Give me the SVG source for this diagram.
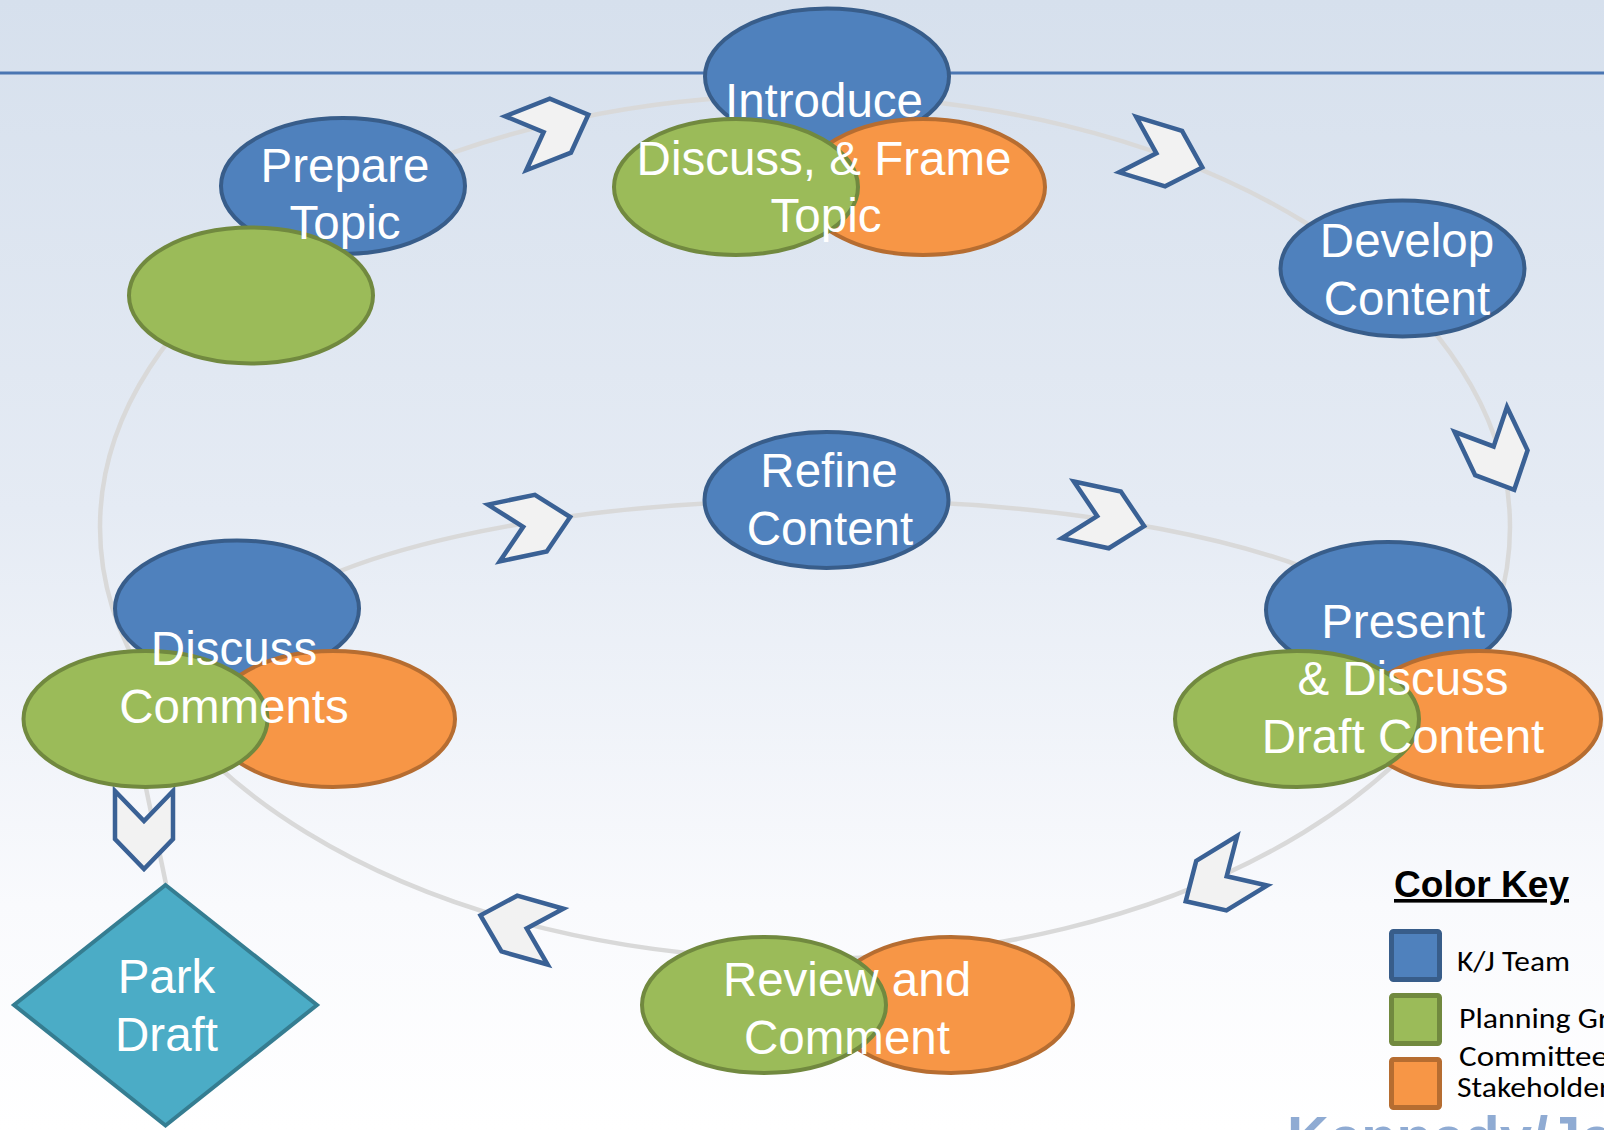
<svg xmlns="http://www.w3.org/2000/svg" width="1604" height="1130" viewBox="0 0 1604 1130">
  <defs>
    <linearGradient id="bg" x1="0" y1="0" x2="0" y2="1">
      <stop offset="0" stop-color="#d6e0ed"/>
      <stop offset="0.45" stop-color="#e5ebf4"/>
      <stop offset="0.8" stop-color="#f9fafd"/>
      <stop offset="1" stop-color="#ffffff"/>
    </linearGradient>
    <!-- chevron pointing +x, centred on its own origin -->
    <polygon id="chev" points="-39,-29 9,-29 39,0 9,29 -39,29 -9,0"/>
  </defs>
  <style>
    .kj { fill: #4f81bd; stroke: #385d8a; stroke-width: 4; }
    .pg { fill: #9bbb59; stroke: #71893f; stroke-width: 4; }
    .cs { fill: #f79646; stroke: #b66d31; stroke-width: 4; }
    .park { fill: #4bacc6; stroke: #357d91; stroke-width: 4; stroke-linejoin: miter; }
    .lbl { font-family: "Liberation Sans", Arial, sans-serif; font-size: 47.5px; fill: #ffffff; text-anchor: middle; }
    .ring { fill: none; stroke: #d9d9d9; stroke-width: 4.5; }
    .chev { fill: #f2f2f2; stroke: #3a6195; stroke-width: 4.5; stroke-linejoin: miter; }
    .key { stroke-width: 5; }
    .keytxt { font-family: Carlito, Lato, "Liberation Sans", sans-serif; font-size: 28px; fill: #000000; }
  </style>

  <!-- backdrop and header rule -->
  <rect x="0" y="0" width="1604" height="1130" fill="url(#bg)"/>
  <line x1="0" y1="73" x2="1604" y2="73" stroke="#4a76b2" stroke-width="3"/>

  <!-- connectors -->
  <g id="connectors">
    <ellipse class="ring" cx="805" cy="527" rx="705" ry="432"/>
    <path class="ring" d="M 250 624 A 600 171 0 0 1 1390 612"/>
    <line class="ring" x1="137" y1="745" x2="166" y2="884"/>
    <use href="#chev" class="chev" transform="translate(552 129) rotate(-21.4)"/>
    <use href="#chev" class="chev" transform="translate(1165 156) rotate(17)"/>
    <use href="#chev" class="chev" transform="translate(1497.5 454.6) rotate(64.6)"/>
    <use href="#chev" class="chev" transform="translate(1219 881) rotate(148.6)"/>
    <use href="#chev" class="chev" transform="translate(518 926) rotate(195.8)"/>
    <use href="#chev" class="chev" transform="translate(532 525) rotate(-11.8)"/>
    <use href="#chev" class="chev" transform="translate(1106 518) rotate(12)"/>
    <use href="#chev" class="chev" transform="translate(144 830) rotate(90)"/>
  </g>

  <g id="prepare-topic">
    <ellipse class="kj" cx="343" cy="186" rx="122" ry="68"/>
    <ellipse class="pg" cx="251" cy="295.5" rx="122" ry="68"/>
    <text class="lbl"><tspan x="345" y="182">Prepare</tspan><tspan x="345" y="239">Topic</tspan></text>
  </g>

  <g id="introduce-topic">
    <ellipse class="kj" cx="827" cy="76.5" rx="122" ry="68"/>
    <ellipse class="cs" cx="923" cy="187" rx="122" ry="68"/>
    <ellipse class="pg" cx="736" cy="187" rx="122" ry="68"/>
    <text class="lbl"><tspan x="824" y="117">Introduce</tspan><tspan x="824" y="175">Discuss, &amp; Frame</tspan><tspan x="826" y="232">Topic</tspan></text>
  </g>

  <g id="develop-content">
    <ellipse class="kj" cx="1402.5" cy="268.5" rx="122" ry="68"/>
    <text class="lbl"><tspan x="1407" y="257">Develop</tspan><tspan x="1407" y="315">Content</tspan></text>
  </g>

  <g id="refine-content">
    <ellipse class="kj" cx="826.5" cy="500" rx="122" ry="68"/>
    <text class="lbl"><tspan x="829" y="487">Refine</tspan><tspan x="830" y="545">Content</tspan></text>
  </g>

  <g id="present-draft">
    <ellipse class="kj" cx="1388" cy="610" rx="122" ry="68"/>
    <ellipse class="cs" cx="1479" cy="719" rx="122" ry="68"/>
    <ellipse class="pg" cx="1297" cy="719" rx="122" ry="68"/>
    <text class="lbl"><tspan x="1403" y="638">Present</tspan><tspan x="1403" y="695">&amp; Discuss</tspan><tspan x="1403" y="753">Draft Content</tspan></text>
  </g>

  <g id="discuss-comments">
    <ellipse class="kj" cx="237" cy="608.5" rx="122" ry="68"/>
    <ellipse class="cs" cx="333" cy="719" rx="122" ry="68"/>
    <ellipse class="pg" cx="145.5" cy="719" rx="122" ry="68"/>
    <text class="lbl"><tspan x="234" y="665">Discuss</tspan><tspan x="234" y="723">Comments</tspan></text>
  </g>

  <g id="review-comment">
    <ellipse class="cs" cx="951" cy="1005" rx="122" ry="68"/>
    <ellipse class="pg" cx="764" cy="1005" rx="122" ry="68"/>
    <text class="lbl"><tspan x="847" y="996">Review and</tspan><tspan x="847" y="1054">Comment</tspan></text>
  </g>

  <g id="park-draft">
    <polygon class="park" points="165.5,885 317,1005 165.5,1125.5 14,1005"/>
    <text class="lbl"><tspan x="166.5" y="993">Park</tspan><tspan x="166.5" y="1051">Draft</tspan></text>
  </g>

  <g id="color-key">
    <text x="1394" y="897" font-family="'Liberation Sans', Arial, sans-serif" font-size="36" font-weight="bold" fill="#000000" text-decoration="underline" textLength="175" lengthAdjust="spacingAndGlyphs">Color Key</text>
    <rect class="kj key" x="1391.5" y="931.5" width="48" height="48" rx="2"/>
    <rect class="pg key" x="1391.5" y="995.5" width="48" height="48" rx="2"/>
    <rect class="cs key" x="1391.5" y="1059.5" width="48" height="48" rx="2"/>
    <text class="keytxt" x="1457" y="971" textLength="113" lengthAdjust="spacingAndGlyphs">K/J Team</text>
    <text class="keytxt" x="1459" y="1028" textLength="150" lengthAdjust="spacingAndGlyphs">Planning Gr</text>
    <text class="keytxt" x="1459" y="1066" textLength="149" lengthAdjust="spacingAndGlyphs">Committee</text>
    <text class="keytxt" x="1457" y="1097" textLength="153" lengthAdjust="spacingAndGlyphs">Stakeholder</text>
  </g>

  <text x="1287" y="1157" font-family="'Liberation Sans', Arial, sans-serif" font-size="58" font-weight="bold" fill="#8fabd3">Kennedy/Je</text>
</svg>
